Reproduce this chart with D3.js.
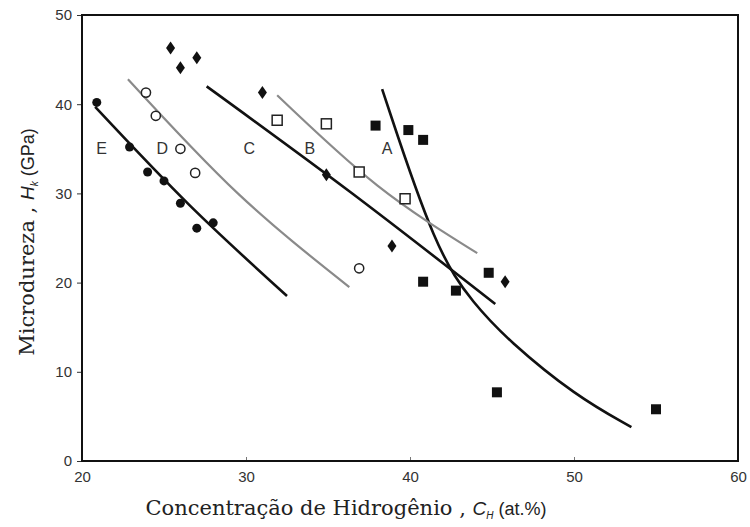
<!DOCTYPE html>
<html>
<head>
<meta charset="utf-8">
<script src="https://cdn.jsdelivr.net/npm/d3@7"></script>
<style>
  body { margin: 0; background: #fff; }
  .tick text { font-family: Arial, "Liberation Sans", sans-serif; font-size: 15px; fill: #333; }
</style>
</head>
<body>
<div id="chart"></div>
<script>
// data points: [C_H, H_k]
var circlesFilled = [[20.9,40.2],[22.9,35.2],[24.0,32.4],[25.0,31.4],[26.0,28.9],[27.0,26.1],[28.0,26.7]];
var circlesOpen = [[23.9,41.3],[24.5,38.7],[26.0,35.0],[26.9,32.3],[36.9,21.6]];
var diamonds = [[25.4,46.3],[26.0,44.1],[27.0,45.2],[31.0,41.3],[34.9,32.1],[38.9,24.1],[45.8,20.1]];
var squaresOpen = [[31.9,38.2],[34.9,37.8],[36.9,32.4],[39.7,29.4]];
var squaresFilled = [[37.9,37.6],[39.9,37.1],[40.8,36.0],[40.8,20.1],[42.8,19.1],[44.8,21.1],[45.3,7.7],[55.0,5.8]];

// fitted curves
var curveA = [[38.3,41.7],[41.6,23.4],[43.9,17.6],[46.0,13.5],[50.1,7.3],[53.5,3.8]];
var curveB = [[31.9,41.0],[38.0,30.9],[44.1,23.3]];
var curveC = [[27.6,42.0],[36.4,30.1],[45.2,17.6]];
var curveD = [[22.8,42.8],[29.5,30.0],[36.3,19.5]];
var curveE = [[20.8,39.7],[26.6,28.6],[32.5,18.5]];

var curveLabels = [["E",21.2,35],["D",24.9,35],["C",30.2,35],["B",33.9,35],["A",38.6,35]];

var xTicks = [20,30,40,50,60];
var yTicks = [0,10,20,30,40,50];

var margin_left = 82, margin_top = 15;
var width = 656, height = 446;

var svg = d3.select("#chart").append("svg")
  .attr("width", 750)
  .attr("height", 527)
  .append("g")
  .attr("transform", `translate(${margin_left}, ${margin_top})`);

var xScale = d3.scaleLinear().domain([20, 60]).range([0, width]);
var yScale = d3.scaleLinear().domain([0, 50]).range([height, 0]);

/* Axes */
svg.append("g")
  .attr("transform", `translate(0, ${height})`)
  .call(d3.axisBottom(xScale).tickValues(xTicks).tickSizeInner(-4).tickSizeOuter(0).tickPadding(10))
  .call(g => g.select(".domain").remove())
  .call(g => g.selectAll("line").attr("stroke", "#777"));

svg.append("g")
  .call(d3.axisLeft(yScale).tickValues(yTicks).tickSizeInner(5).tickSizeOuter(0).tickPadding(5))
  .call(g => g.select(".domain").remove())
  .call(g => g.selectAll("line").attr("stroke", "#333"));

// frame
svg.append("rect")
  .attr("width", width)
  .attr("height", height)
  .attr("fill", "none")
  .attr("stroke", "#111")
  .attr("stroke-width", 2);

/* Curves */
var smooth = d3.line()
  .x(d => xScale(d[0]))
  .y(d => yScale(d[1]));

var curves = [
  {pts: curveA, color: "#111", w: 2.6, c: d3.curveBasis},
  {pts: curveB, color: "#8a8a8a", w: 2.2, c: d3.curveNatural},
  {pts: curveC, color: "#111", w: 2.6, c: d3.curveNatural},
  {pts: curveD, color: "#8a8a8a", w: 2.2, c: d3.curveNatural},
  {pts: curveE, color: "#111", w: 2.6, c: d3.curveNatural}
];

svg.selectAll(".fit")
  .data(curves).enter()
  .append("path")
  .attr("class", "fit")
  .attr("d", d => smooth.curve(d.c)(d.pts))
  .attr("fill", "none")
  .attr("stroke", d => d.color)
  .attr("stroke-width", d => d.w);

svg.selectAll(".clabel")
  .data(curveLabels).enter()
  .append("text")
  .attr("x", d => xScale(d[1]))
  .attr("y", d => yScale(d[2]))
  .attr("text-anchor", "middle")
  .attr("dy", "0.35em")
  .style("font-family", "Arial, 'Liberation Sans', sans-serif")
  .style("font-size", "16px")
  .style("fill", "#333")
  .text(d => d[0]);

/* Markers */
svg.selectAll(".cf")
  .data(circlesFilled).enter()
  .append("circle")
  .attr("cx", d => xScale(d[0]))
  .attr("cy", d => yScale(d[1]))
  .attr("r", 4.5)
  .attr("fill", "#111");

svg.selectAll(".co")
  .data(circlesOpen).enter()
  .append("circle")
  .attr("cx", d => xScale(d[0]))
  .attr("cy", d => yScale(d[1]))
  .attr("r", 4.6)
  .attr("fill", "#fff")
  .attr("stroke", "#222")
  .attr("stroke-width", 1.5);

svg.selectAll(".dm")
  .data(diamonds).enter()
  .append("path")
  .attr("transform", d => `translate(${xScale(d[0])}, ${yScale(d[1])})`)
  .attr("d", "M0,-6.5 L4.5,0 L0,6.5 L-4.5,0 Z")
  .attr("fill", "#111");

svg.selectAll(".so")
  .data(squaresOpen).enter()
  .append("rect")
  .attr("x", d => xScale(d[0]) - 5)
  .attr("y", d => yScale(d[1]) - 5)
  .attr("width", 10)
  .attr("height", 10)
  .attr("fill", "#fff")
  .attr("stroke", "#222")
  .attr("stroke-width", 1.5);

svg.selectAll(".sf")
  .data(squaresFilled).enter()
  .append("rect")
  .attr("x", d => xScale(d[0]) - 5)
  .attr("y", d => yScale(d[1]) - 5)
  .attr("width", 10)
  .attr("height", 10)
  .attr("fill", "#111");

/* Axis titles */
var sans = "Arial, 'Liberation Sans', sans-serif";
var serif = "'DejaVu Serif', serif";

var xt = svg.append("text")
  .attr("x", 264)
  .attr("y", height + 54)
  .attr("text-anchor", "middle")
  .style("font-family", serif)
  .style("font-size", "21px")
  .style("fill", "#222");
xt.append("tspan").text("Concentração de Hidrogênio , ");
xt.append("tspan").style("font-style", "italic").style("font-family", sans).style("font-size", "19px").text("C");
xt.append("tspan").attr("dy", 4).style("font-style", "italic").style("font-family", sans).style("font-size", "10px").text("H");
xt.append("tspan").attr("dy", -4).style("font-family", sans).style("font-size", "18px").text(" (at.%)");

var yt = svg.append("text")
  .attr("transform", `translate(-48, ${height / 2 + 4}) rotate(-90)`)
  .attr("text-anchor", "middle")
  .style("font-family", serif)
  .style("font-size", "21px")
  .style("fill", "#222");
yt.append("tspan").text("Microdureza , ");
yt.append("tspan").style("font-style", "italic").style("font-family", sans).style("font-size", "19px").text("H");
yt.append("tspan").attr("dy", 4).style("font-style", "italic").style("font-family", sans).style("font-size", "10px").text("k");
yt.append("tspan").attr("dy", -4).style("font-family", sans).style("font-size", "18px").text(" (GPa)");
</script>
</body>
</html>
